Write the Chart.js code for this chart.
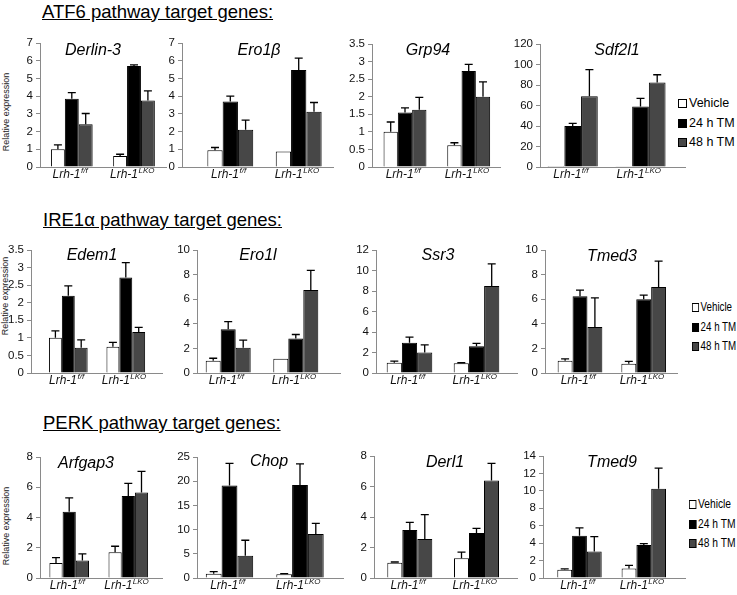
<!DOCTYPE html>
<html>
<head>
<meta charset="utf-8">
<script src="https://cdn.jsdelivr.net/npm/chart.js@4.4.0/dist/chart.umd.min.js"></script>
<style>
  body { margin: 0; background: #fff; width: 737px; height: 595px; overflow: hidden; position: relative;
         font-family: Arial, "Liberation Sans", sans-serif; color: #000; }
  canvas { position: absolute; }
  .sec { position: absolute; font-size: 18.5px; line-height: 1; text-decoration: underline; white-space: nowrap; }
  .gene { position: absolute; font-size: 16px; line-height: 1; font-style: italic; white-space: nowrap; transform: translate(-50%, -50%); }
  .ylab { position: absolute; font-size: 9px; line-height: 1; color: #222; white-space: nowrap; transform: translate(-50%, -50%) rotate(-90deg); }
  .leg { position: absolute; font-size: 12.5px; line-height: 16px; height: 16px; white-space: nowrap; transform-origin: 0 50%; }
  .leg span { display: inline-block; width: 7px; height: 7px; border: 1px solid #000; margin-right: 2px; vertical-align: -1px; }
</style>
</head>
<body>
<script>
const groups = ['f/f', 'LKO'];
const seriesNames = ['Vehicle', '24 h TM', '48 h TM'];
const sections = ['ATF6 pathway target genes:', 'IRE1\u03b1 pathway target genes:', 'PERK pathway target genes:'];
const genes = ['Derlin-3', 'Ero1\u03b2', 'Grp94', 'Sdf2l1', 'Edem1', 'Ero1l', 'Ssr3', 'Tmed3', 'Arfgap3', 'Chop', 'Derl1', 'Tmed9'];
const yMax = [7, 7, 3.5, 120, 3.5, 10, 12, 10, 8, 25, 8, 14];
const yStep = [1, 1, 0.5, 20, 0.5, 2, 2, 2, 2, 5, 2, 2];

// values per gene: [Lrh-1 f/f, Lrh-1 LKO]
const vehicle = [[1.0, 0.62], [0.95, 0.88], [1.0, 0.62], [1, 0.7], [1.0, 0.75], [1.0, 1.15], [1.0, 0.95], [1.0, 0.75], [1.0, 1.7], [0.9, 0.75], [1.0, 1.3], [0.95, 1.1]];
const vehicleErr = [[0.25, 0.1], [0.15, 0], [0.28, 0.07], [0, 0], [0.2, 0.12], [0.2, 0], [0.15, 0.05], [0.15, 0.2], [0.35, 0.4], [0.4, 0.15], [0.05, 0.4], [0.1, 0.35]];
const tm24 = [[3.85, 5.7], [3.7, 5.48], [1.55, 2.73], [40, 59], [2.2, 2.72], [3.55, 2.8], [2.95, 2.6], [6.25, 6.0], [4.38, 5.42], [19.1, 19.2], [3.15, 2.95], [4.85, 3.8]];
const tm24Err = [[0.35, 0.06], [0.3, 0.67], [0.13, 0.19], [2.5, 8], [0.28, 0.42], [0.62, 0.33], [0.55, 0.3], [0.48, 0.33], [0.92, 0.83], [4.6, 4.4], [0.5, 0.3], [0.9, 0.15]];
const tm48 = [[2.42, 3.75], [2.1, 3.12], [1.63, 2.0], [69, 82.5], [0.72, 1.17], [2.05, 6.75], [2.0, 8.5], [3.75, 7.0], [1.15, 5.65], [4.6, 9.1], [2.55, 6.4], [3.05, 10.25]];
const tm48Err = [[0.6, 0.55], [0.55, 0.52], [0.35, 0.42], [26, 7.5], [0.22, 0.13], [0.62, 1.6], [0.75, 2.15], [2.35, 2.1], [0.45, 1.4], [3.2, 2.2], [1.6, 1.12], [1.7, 2.35]];

const values = [vehicle, tm24, tm48];
const errors = [vehicleErr, tm24Err, tm48Err];
const fills = ['#ffffff', '#000000', '#474747'];
const AXIS = '#8a8a8a';
const FONT = 'Arial, "Liberation Sans", sans-serif';

// page layout: axis left, axis right, top tick, zero line, group centres, bar width
const boxes = [
  [40, 166, 43, 167, 71.8, 134, 13.9],
  [182, 333, 43, 167, 230.3, 298.7, 15.3],
  [372, 500, 44, 167, 405, 468.7, 14.3],
  [540, 685, 44, 167, 572.7, 640.5, 16.7],
  [31, 162, 250, 373, 68.3, 125.8, 12.9],
  [197, 340, 250, 373, 228.2, 295.8, 15],
  [376, 517, 250, 373, 409.5, 476.5, 15.2],
  [545, 677, 250, 373, 580, 643.7, 14.9],
  [40, 162, 457, 578, 69.2, 128.3, 13.2],
  [197, 343, 457, 578, 229.5, 300, 15.8],
  [374, 517, 456, 578, 409.8, 476.5, 15],
  [543, 685, 456, 578, 579.5, 643.8, 14.8]
];
const titlePos = [[93, 50], [259, 50], [428, 50], [617, 50], [92, 255], [258, 255], [438, 255], [612, 256], [86, 463], [269, 461], [445, 462], [612, 462]];
const sectionPos = [[42, 2.5], [43, 211], [43, 414]];
const legendPos = [[678, 103, 1], [692, 307, 0.78], [689, 504, 0.82]];
const yTitlePos = [[6, 112], [5, 296], [6, 526]];

const YW = 34, PADT = 10, XH = 20, PADR = 4;

function addDiv(cls, text, x, y) {
  const el = document.createElement('div');
  el.className = cls;
  el.textContent = text;
  el.style.left = x + 'px';
  el.style.top = y + 'px';
  document.body.appendChild(el);
  return el;
}

const extras = {
  id: 'extras',
  afterDatasetsDraw: function(chart) {
    const ctx = chart.ctx;
    const ys = chart.scales.y;
    ctx.save();
    ctx.strokeStyle = '#000';
    ctx.lineWidth = 1.3;
    chart.data.datasets.forEach(function(ds, d) {
      chart.getDatasetMeta(d).data.forEach(function(bar, k) {
        const e = ds.errs[k];
        if (!e) return;
        const top = ys.getPixelForValue(ds.data[k].y + e);
        ctx.beginPath();
        ctx.moveTo(bar.x, bar.y);
        ctx.lineTo(bar.x, top);
        ctx.moveTo(bar.x - 4, top);
        ctx.lineTo(bar.x + 4, top);
        ctx.stroke();
      });
    });
    ctx.restore();
  },
  afterDraw: function(chart) {
    // x labels: Lrh-1 with superscript genotype
    const ctx = chart.ctx;
    const xs = chart.scales.x;
    const y = chart.chartArea.bottom + 8;
    ctx.save();
    ctx.fillStyle = '#111';
    ctx.textBaseline = 'middle';
    ctx.textAlign = 'left';
    groups.forEach(function(g, k) {
      ctx.font = 'italic 12px ' + FONT;
      const w1 = ctx.measureText('Lrh-1').width;
      ctx.font = 'italic 8px ' + FONT;
      const w2 = ctx.measureText(g).width;
      const x0 = xs.getPixelForValue(k) - (w1 + w2) / 2 - 2;
      ctx.font = 'italic 12px ' + FONT;
      ctx.fillText('Lrh-1', x0, y);
      ctx.font = 'italic 8px ' + FONT;
      ctx.fillText(g, x0 + w1 + 0.5, y - 4);
    });
    ctx.restore();
  }
};

sections.forEach(function(s, r) {
  addDiv('sec', s, sectionPos[r][0], sectionPos[r][1]);
  addDiv('ylab', 'Relative expression', yTitlePos[r][0], yTitlePos[r][1]);
  seriesNames.forEach(function(name, k) {
    const el = addDiv('leg', '', legendPos[r][0], legendPos[r][1] + k * 19.5 - 8);
    el.style.transform = 'scaleX(' + legendPos[r][2] + ')';
    const sq = document.createElement('span');
    sq.style.background = fills[k];
    el.appendChild(sq);
    el.appendChild(document.createTextNode(name));
  });
});

genes.forEach(function(gene, i) {
  const b = boxes[i];
  const L = b[0], R = b[1], T = b[2], B = b[3], c1 = b[4], c2 = b[5], bw = b[6];
  const w = c2 - c1;
  const cv = document.createElement('canvas');
  cv.width = Math.round(YW + (R - L) + PADR);
  cv.height = Math.round(B - T) + PADT + XH;
  cv.style.left = Math.round(L - YW) + 'px';
  cv.style.top = Math.round(T - PADT) + 'px';
  document.body.appendChild(cv);

  new Chart(cv.getContext('2d'), {
    type: 'bar',
    data: {
      datasets: seriesNames.map(function(name, s) {
        return {
          label: name,
          data: groups.map(function(g, k) { return { x: k, y: values[s][i][k] }; }),
          errs: errors[s][i],
          backgroundColor: fills[s],
          borderColor: '#000',
          borderWidth: 1,
          categoryPercentage: 3 * bw / w,
          barPercentage: 1
        };
      })
    },
    options: {
      responsive: false,
      animation: false,
      layout: { padding: { top: PADT, right: PADR, left: 0, bottom: 0 } },
      plugins: { legend: { display: false }, tooltip: { enabled: false } },
      scales: {
        x: {
          type: 'linear',
          min: (L - c1) / w,
          max: 1 + (R - c2) / w,
          offset: false,
          afterBuildTicks: function(s) { s.ticks = [{ value: 0 }, { value: 1 }]; },
          afterFit: function(s) { s.height = XH; },
          ticks: { display: false },
          grid: { display: false },
          border: { color: AXIS, width: 1 }
        },
        y: {
          min: 0,
          max: yMax[i],
          afterFit: function(s) { s.width = YW; },
          ticks: {
            stepSize: yStep[i],
            autoSkip: false,
            color: '#111',
            padding: 3,
            font: { family: FONT, size: 11.5 },
            callback: function(v) { return String(+v.toFixed(2)); }
          },
          grid: { drawOnChartArea: false, drawTicks: true, tickLength: 4, color: AXIS },
          border: { color: AXIS, width: 1 }
        }
      }
    },
    plugins: [extras]
  });

  addDiv('gene', gene, titlePos[i][0], titlePos[i][1]);
});
</script>
</body>
</html>
